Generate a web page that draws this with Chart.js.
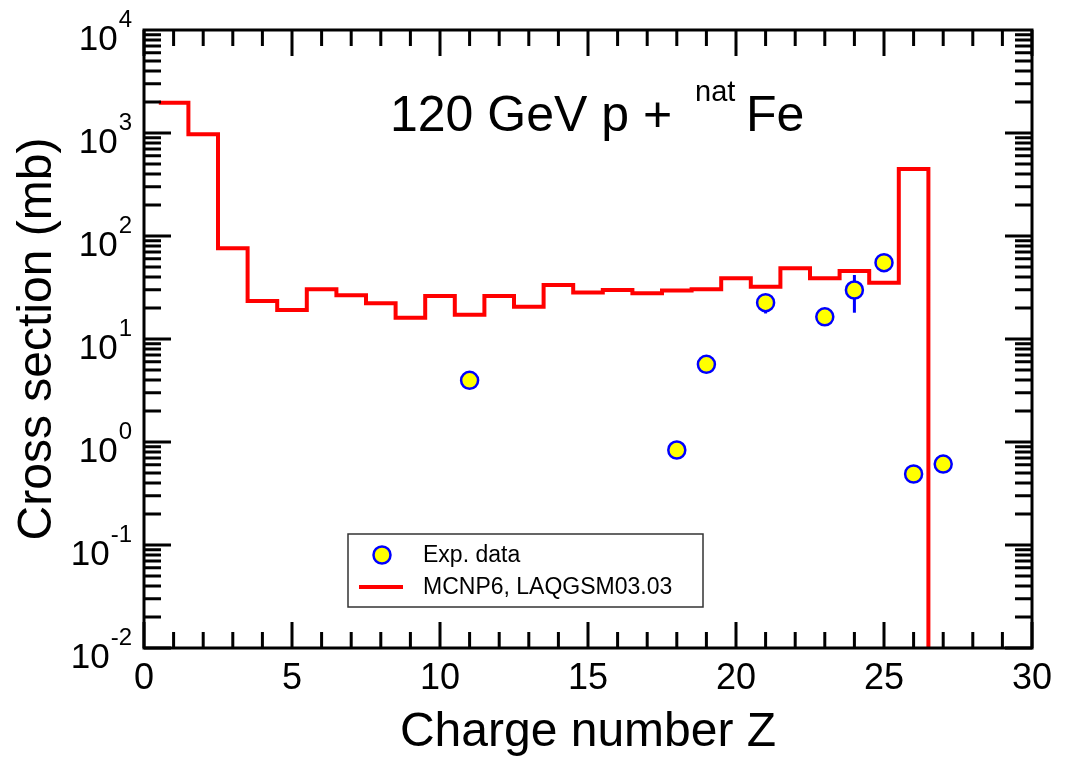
<!DOCTYPE html>
<html>
<head>
<meta charset="utf-8">
<script src="https://cdn.jsdelivr.net/npm/chart.js@4.4.1/dist/chart.umd.min.js"></script>
<style>
  html, body { margin: 0; padding: 0; background: #fff; }
  #wrap { width: 1067px; height: 761px; }
</style>
</head>
<body>
<div id="wrap"><canvas id="cnv" width="1067" height="761"></canvas></div>
<script>
// MCNP6, LAQGSM03.03 histogram, one bin per Z (width 1)
var zModel = [1, 2, 3, 4, 5, 6, 7, 8, 9, 10, 11, 12, 13, 14, 15, 16, 17, 18, 19, 20, 21, 22, 23, 24, 25, 26];
var modelValues = [1970, 970, 76, 23.4, 19.1, 30.4, 26.6, 22.2, 16.1, 26.1, 17.2, 26.1, 20.6, 33.4,
                   28.2, 29.9, 27.8, 29.5, 30.4, 38.8, 32.2, 48.6, 38.8, 45.7, 35.2, 446];

// experimental data
var zExp = [11, 18, 19, 21, 23, 24, 25, 26, 27];
var expValues = [3.97, 0.836, 5.68, 22.5, 16.4, 29.9, 55.1, 0.489, 0.611];
var expErrLo = [null, null, null, 17.7, null, 18.0, null, null, null];
var expErrHi = [null, null, null, 27.3, null, 41.8, null, null, null];

var xTicks = [0, 5, 10, 15, 20, 25, 30];
var yExponents = [-2, -1, 0, 1, 2, 3, 4];

var seriesLabels = ['Exp. data', 'MCNP6, LAQGSM03.03'];
var FONT = '"Liberation Sans", Arial, sans-serif';

// step line through bin edges
var stepPts = [];
for (let i = 0; i < zModel.length; i++) {
  stepPts.push({x: zModel[i] - 0.5, y: modelValues[i]});
}
var lastZ = zModel[zModel.length - 1];
stepPts.push({x: lastZ + 0.5, y: modelValues[modelValues.length - 1]});
stepPts.push({x: lastZ + 0.5, y: 1e-6});

var expPts = [];
for (let i = 0; i < zExp.length; i++) {
  expPts.push({x: zExp[i], y: expValues[i]});
}

var errorBars = {
  id: 'errorBars',
  beforeDatasetsDraw: function(chart) {
    const ctx = chart.ctx, xs = chart.scales.x, ys = chart.scales.y;
    ctx.save();
    ctx.strokeStyle = '#0000ff';
    ctx.lineWidth = 3;
    for (let i = 0; i < zExp.length; i++) {
      if (expErrLo[i] == null) continue;
      let px = xs.getPixelForValue(zExp[i]);
      ctx.beginPath();
      ctx.moveTo(px, ys.getPixelForValue(expErrLo[i]));
      ctx.lineTo(px, ys.getPixelForValue(expErrHi[i]));
      ctx.stroke();
    }
    ctx.restore();
  }
};

var frameAndText = {
  id: 'frameAndText',
  afterDraw: function(chart) {
    const ctx = chart.ctx, xs = chart.scales.x, ys = chart.scales.y;
    const a = chart.chartArea;
    ctx.save();
    ctx.strokeStyle = '#000';
    ctx.lineWidth = 3;
    ctx.lineCap = 'butt';
    // ticks, inward on all four sides
    ctx.beginPath();
    for (let v = 0; v <= 30; v++) {
      let px = xs.getPixelForValue(v);
      let len = (v % 5 == 0) ? 26 : 16;
      ctx.moveTo(px, a.bottom); ctx.lineTo(px, a.bottom - len);
      ctx.moveTo(px, a.top); ctx.lineTo(px, a.top + len);
    }
    for (let e = -2; e < 4; e++) {
      for (let m = 1; m < 10; m++) {
        let py = ys.getPixelForValue(m * Math.pow(10, e));
        let len = (m == 1) ? 27 : 17;
        ctx.moveTo(a.left, py); ctx.lineTo(a.left + len, py);
        ctx.moveTo(a.right, py); ctx.lineTo(a.right - len, py);
      }
    }
    ctx.stroke();
    ctx.lineWidth = 3;
    ctx.strokeRect(a.left, a.top, a.right - a.left, a.bottom - a.top);

    ctx.fillStyle = '#000';
    // x tick labels
    ctx.font = '36px ' + FONT;
    ctx.textAlign = 'center';
    ctx.textBaseline = 'alphabetic';
    xTicks.forEach(function(t) {
      ctx.fillText(String(t), xs.getPixelForValue(t), a.bottom + 41);
    });
    // y tick labels 10^n
    yExponents.forEach(function(e) {
      let py = ys.getPixelForValue(Math.pow(10, e));
      ctx.textAlign = 'right';
      ctx.font = '24px ' + FONT;
      let ex = String(e);
      let ew = ctx.measureText(ex).width;
      ctx.fillText(ex, a.left - 12, py - 3);
      ctx.font = '35px ' + FONT;
      ctx.fillText('10', a.left - 12 - ew - 1, py + 20);
    });
    // axis titles
    ctx.font = '48px ' + FONT;
    ctx.textAlign = 'center';
    ctx.fillText('Charge number Z', (a.left + a.right) / 2, 746);
    ctx.save();
    ctx.translate(51, (a.top + a.bottom) / 2);
    ctx.rotate(-Math.PI / 2);
    ctx.fillText('Cross section (mb)', 0, 0);
    ctx.restore();
    // plot title
    ctx.textAlign = 'left';
    ctx.font = '50px ' + FONT;
    ctx.fillText('120 GeV p +', 390, 131);
    ctx.font = '29px ' + FONT;
    ctx.fillText('nat', 695, 101);
    ctx.font = '50px ' + FONT;
    ctx.fillText('Fe', 746, 131);

    // legend
    ctx.lineWidth = 1.5;
    ctx.strokeStyle = '#333';
    ctx.strokeRect(348, 534, 355, 73);
    ctx.beginPath();
    ctx.arc(382, 555, 8.5, 0, 2 * Math.PI);
    ctx.fillStyle = '#ffff00';
    ctx.fill();
    ctx.lineWidth = 2.5;
    ctx.strokeStyle = '#0000ff';
    ctx.stroke();
    ctx.beginPath();
    ctx.lineWidth = 4;
    ctx.strokeStyle = '#ff0000';
    ctx.moveTo(359, 587); ctx.lineTo(403, 587);
    ctx.stroke();
    ctx.fillStyle = '#000';
    ctx.font = '23px ' + FONT;
    ctx.fillText(seriesLabels[0], 423, 562);
    ctx.fillText(seriesLabels[1], 423, 594);
    ctx.restore();
  }
};

var ctx = document.getElementById('cnv').getContext('2d');
var myChart = new Chart(ctx, {
  type: 'line',
  data: {
    datasets: [{
      type: 'scatter',
      label: seriesLabels[0],
      data: expPts,
      pointRadius: 8.5,
      pointBorderWidth: 2.5,
      pointBorderColor: '#0000ff',
      pointBackgroundColor: '#ffff00',
      showLine: false
    }, {
      label: seriesLabels[1],
      data: stepPts,
      stepped: 'before',
      borderColor: '#ff0000',
      borderWidth: 4,
      pointRadius: 0,
      fill: false
    }]
  },
  options: {
    responsive: false,
    animation: false,
    devicePixelRatio: 1,
    layout: { padding: { left: 144, right: 35, top: 30, bottom: 113 } },
    plugins: {
      legend: { display: false },
      tooltip: { enabled: false }
    },
    scales: {
      x: { type: 'linear', min: 0, max: 30, display: false },
      y: { type: 'logarithmic', min: 0.01, max: 10000, display: false }
    }
  },
  plugins: [errorBars, frameAndText]
});
</script>
</body>
</html>
